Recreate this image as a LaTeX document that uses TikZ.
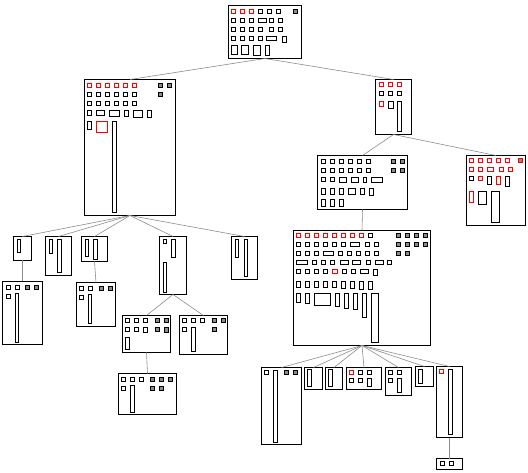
\documentclass[tikz,border=0pt]{standalone}
\usepackage{tikz}
\usetikzlibrary{fit}

\begin{document}
\begin{tikzpicture}[x=1pt, y=-1pt, shift={(0.5,0.5)},
    box/.style={draw, line width=1.1pt, inner sep=0pt, outer sep=0pt},
    cell/.style={draw, line width=1pt},
    rcell/.style={cell, draw=red},
    gcell/.style={cell, fill=black!45},
    link/.style={draw=black!45, line width=0.6pt}
]
    \useasboundingbox (-0.5,-0.5) rectangle (527.5,472.5);

    % Top level
    \node[box, fit={(228,5) (301,58)}] (root) {};
    \node[box, fit={(84,79) (175,215)}] (lhub) {};
    \node[box, fit={(375,79) (411,134)}] (rhub) {};
    \node[box, fit={(317,155) (407,209)}] (mhub) {};
    \node[box, fit={(466,155) (525,225)}] (rside) {};
    \node[box, fit={(293,230) (430,345)}] (core) {};

    % Leaves under the left hub
    \node[box, fit={(13,236) (31,260)}] (la) {};
    \node[box, fit={(45,236) (71,275)}] (lb) {};
    \node[box, fit={(81,236) (107,261)}] (lc) {};
    \node[box, fit={(159,236) (186,294)}] (ld) {};
    \node[box, fit={(231,236) (257,279)}] (le) {};
    \node[box, fit={(2,281) (42,344)}] (la2) {};
    \node[box, fit={(76,282) (115,326)}] (lc2) {};
    \node[box, fit={(122,315) (170,352)}] (ld1) {};
    \node[box, fit={(179,315) (227,354)}] (ld2) {};
    \node[box, fit={(118,373) (176,414)}] (ld3) {};

    % Leaves under the core
    \node[box, fit={(261,367) (301,444)}] (c1) {};
    \node[box, fit={(304,367) (322,389)}] (c2) {};
    \node[box, fit={(325,367) (342,389)}] (c3) {};
    \node[box, fit={(346,367) (381,389)}] (c4) {};
    \node[box, fit={(385,367) (411,395)}] (c5) {};
    \node[box, fit={(415,366) (433,386)}] (c6) {};
    \node[box, fit={(436,366) (462,437)}] (c7) {};
    \node[box, fit={(436,458) (462,469)}] (c8) {};

    % Connectors
    \foreach \n in {lhub, rhub} \draw[link] (root.south) -- (\n.north);
    \foreach \n in {mhub, rside} \draw[link] (rhub.south) -- (\n.north);
    \draw[link] (mhub.south) -- (core.north);
    \foreach \n in {la, lb, lc, ld, le} \draw[link] (lhub.south) -- (\n.north);
    \draw[link] (la.south) -- (la2.north);
    \draw[link] (lc.south) -- (lc2.north);
    \foreach \n in {ld1, ld2} \draw[link] (ld.south) -- (\n.north);
    \draw[link] (ld1.south) -- (ld3.north);
    \foreach \n in {c1, c2, c3, c4, c5, c6, c7} \draw[link] (core.south) -- (\n.north);
    \draw[link] (c7.south) -- (c8.north);

    % root cells
    \foreach \x in {231,240,249} \draw[rcell] (\x,9) rectangle +(4,4);
    \foreach \x in {258,267,276} \draw[cell] (\x,9) rectangle +(4,4);
    \draw[gcell] (293,9) rectangle +(4,4);
    \foreach \x in {231,240,249,269,278} \draw[cell] (\x,18) rectangle +(4,4);
    \draw[cell] (258,18) rectangle +(8,4);
    \foreach \x in {231,240,249,258,269,278} \draw[cell] (\x,27) rectangle +(4,4);
    \foreach \x in {231,240,249,258} \draw[cell] (\x,36) rectangle +(4,4);
    \draw[cell] (266,36) rectangle +(10,4);
    \draw[cell] (282,36) rectangle +(4,6);
    \draw[cell] (231,45) rectangle +(6,9);
    \draw[cell] (241,45) rectangle +(7,9);
    \draw[cell] (253,45) rectangle +(7,10);
    \draw[cell] (265,45) rectangle +(4,10);

    % left hub cells
    \foreach \x in {87,96,...,132} {
        \draw[rcell] (\x,83) rectangle +(4,4);
        \draw[cell] (\x,92) rectangle +(4,4);
        \draw[cell] (\x,101) rectangle +(4,4);
    }
    \foreach \x in {158,167} \draw[gcell] (\x,83) rectangle +(4,4);
    \draw[gcell] (158,92) rectangle +(4,4);
    \draw[cell] (87,110) rectangle +(4,5);
    \draw[cell] (96,110) rectangle +(8,5);
    \draw[cell] (109,110) rectangle +(10,6);
    \draw[cell] (124,110) rectangle +(4,6);
    \draw[cell] (133,110) rectangle +(9,7);
    \draw[cell] (147,110) rectangle +(4,7);
    \draw[cell] (87,121) rectangle +(4,8);
    \draw[rcell] (96,121) rectangle +(11,11);
    \draw[cell] (112,121) rectangle +(4,91);

    % right hub cells
    \foreach \x in {379,388,397} {
        \draw[rcell] (\x,82) rectangle +(4,4);
        \draw[cell] (\x,91) rectangle +(4,4);
    }
    \draw[rcell] (379,101) rectangle +(4,5);
    \draw[cell] (388,101) rectangle +(5,7);
    \draw[cell] (397,101) rectangle +(4,30);

    % middle hub cells
    \foreach \x in {321,330,...,366} {
        \draw[cell] (\x,159) rectangle +(4,4);
        \draw[cell] (\x,168) rectangle +(4,4);
    }
    \foreach \x in {391,400} {
        \draw[gcell] (\x,159) rectangle +(4,4);
        \draw[gcell] (\x,168) rectangle +(4,4);
    }
    \foreach \x in {321,330} \draw[cell] (\x,177) rectangle +(4,4);
    \draw[cell] (339,177) rectangle +(7,5);
    \draw[cell] (351,177) rectangle +(7,5);
    \draw[cell] (363,177) rectangle +(3,5);
    \draw[cell] (371,177) rectangle +(11,5);
    \foreach \x in {321,330,339} \draw[cell] (\x,188) rectangle +(4,6);
    \draw[cell] (348,188) rectangle +(7,6);
    \draw[cell] (360,188) rectangle +(4,6);
    \draw[cell] (369,188) rectangle +(4,7);
    \foreach \x in {321,330,339} \draw[cell] (\x,199) rectangle +(4,7);

    % right side cells
    \foreach \x in {469,478,487,496,505} \draw[rcell] (\x,158) rectangle +(4,4);
    \draw[rcell, fill=black!45] (518,158) rectangle +(4,4);
    \foreach \x in {469,478,499,508} \draw[rcell] (\x,167) rectangle +(4,4);
    \draw[rcell] (487,167) rectangle +(6,4);
    \draw[cell] (469,176) rectangle +(4,4);
    \draw[rcell] (478,176) rectangle +(4,4);
    \draw[cell] (487,176) rectangle +(4,8);
    \draw[rcell] (496,176) rectangle +(4,8);
    \draw[cell] (505,176) rectangle +(4,10);
    \draw[rcell] (469,191) rectangle +(4,11);
    \draw[cell] (478,191) rectangle +(8,13);
    \draw[cell] (491,191) rectangle +(8,31);

    % core cells
    \foreach \x in {296,305,...,359} \draw[rcell] (\x,233) rectangle +(4,4);
    \draw[cell] (368,233) rectangle +(4,4);
    \foreach \x in {396,405,414,423} {
        \draw[gcell] (\x,233) rectangle +(4,4);
        \draw[gcell] (\x,242) rectangle +(4,4);
    }
    \foreach \x in {296,305,...,341,365,374} \draw[cell] (\x,242) rectangle +(4,4);
    \draw[cell] (350,242) rectangle +(9,4);
    \foreach \x in {296,305,314,338,347,356,365,374} \draw[cell] (\x,251) rectangle +(4,4);
    \draw[cell] (323,251) rectangle +(10,4);
    \foreach \x in {396,405} \draw[gcell] (\x,251) rectangle +(4,4);
    \draw[cell] (296,260) rectangle +(11,4);
    \foreach \x in {312,321,330,366,387} \draw[cell] (\x,260) rectangle +(4,4);
    \draw[cell] (340,260) rectangle +(8,4);
    \draw[cell] (352,260) rectangle +(8,4);
    \draw[cell] (375,260) rectangle +(8,4);
    \foreach \x in {296,305,314,323,342,351} \draw[cell] (\x,269) rectangle +(4,4);
    \draw[rcell] (332,269) rectangle +(5,4);
    \draw[cell] (360,269) rectangle +(8,4);
    \draw[cell] (373,269) rectangle +(4,6);
    \foreach \x in {296,305,314,323,332} \draw[cell] (\x,281) rectangle +(4,6);
    \foreach \x in {341,350} \draw[cell] (\x,281) rectangle +(4,7);
    \foreach \x in {359,368} \draw[cell] (\x,281) rectangle +(4,8);
    \draw[cell] (296,293) rectangle +(4,9);
    \draw[cell] (305,293) rectangle +(4,10);
    \draw[cell] (314,293) rectangle +(16,12);
    \draw[cell] (335,293) rectangle +(4,13);
    \draw[cell] (344,293) rectangle +(4,15);
    \draw[cell] (353,293) rectangle +(4,16);
    \draw[cell] (362,293) rectangle +(4,24);
    \draw[cell] (371,293) rectangle +(7,49);

    % left leaves cells
    \draw[cell] (17,239) rectangle +(3,13);
    \draw[cell] (49,239) rectangle +(3,14);
    \draw[cell] (57,239) rectangle +(4,33);
    \draw[cell] (85,239) rectangle +(3,17);
    \draw[cell] (93,239) rectangle +(4,20);
    \draw[cell] (163,239) rectangle +(3,4);
    \draw[cell] (171,239) rectangle +(4,18);
    \draw[cell] (163,262) rectangle +(3,30);
    \draw[cell] (235,239) rectangle +(3,18);
    \draw[cell] (244,239) rectangle +(3,37);
    \foreach \x in {6,15} \draw[cell] (\x,285) rectangle +(4,4);
    \foreach \x in {25,34} \draw[gcell] (\x,285) rectangle +(4,4);
    \draw[cell] (6,294) rectangle +(4,4);
    \draw[cell] (15,293) rectangle +(3,49);
    \foreach \x in {79,88} \draw[cell] (\x,286) rectangle +(4,4);
    \foreach \x in {99,108} \draw[gcell] (\x,286) rectangle +(4,4);
    \draw[cell] (79,295) rectangle +(4,4);
    \draw[cell] (88,294) rectangle +(3,29);
    \foreach \x in {125,134,143} \draw[cell] (\x,318) rectangle +(4,4);
    \foreach \x in {155,164} \draw[gcell] (\x,318) rectangle +(4,4);
    \foreach \x in {125,134} \draw[cell] (\x,327) rectangle +(4,4);
    \draw[cell] (143,327) rectangle +(4,5);
    \draw[gcell] (155,327) rectangle +(4,4);
    \draw[gcell] (164,327) rectangle +(4,5);
    \draw[cell] (125,337) rectangle +(4,12);
    \foreach \x in {182,191,200} \draw[cell] (\x,318) rectangle +(4,4);
    \foreach \x in {212,221} \draw[gcell] (\x,318) rectangle +(4,4);
    \draw[cell] (182,327) rectangle +(4,4);
    \draw[gcell] (212,327) rectangle +(4,4);
    \draw[cell] (191,327) rectangle +(4,24);
    \foreach \x in {121,130,139} \draw[cell] (\x,377) rectangle +(4,4);
    \foreach \x in {150,159,168} \draw[gcell] (\x,377) rectangle +(4,4);
    \draw[cell] (121,386) rectangle +(4,4);
    \foreach \x in {150,159} \draw[gcell] (\x,386) rectangle +(4,4);
    \draw[cell] (130,385) rectangle +(4,27);

    % core leaves cells
    \draw[cell] (264,370) rectangle +(4,4);
    \draw[cell] (273,370) rectangle +(4,72);
    \foreach \x in {284,293} \draw[gcell] (\x,370) rectangle +(4,4);
    \draw[cell] (307,369) rectangle +(4,17);
    \draw[cell] (328,369) rectangle +(4,17);
    \draw[rcell] (349,370) rectangle +(4,4);
    \foreach \x in {358,367} \draw[cell] (\x,370) rectangle +(4,4);
    \foreach \x in {349,358} \draw[cell] (\x,378) rectangle +(4,4);
    \draw[cell] (367,378) rectangle +(4,8);
    \foreach \x in {388,397} \draw[cell] (\x,370) rectangle +(4,4);
    \draw[cell] (388,378) rectangle +(4,4);
    \draw[cell] (397,378) rectangle +(4,14);
    \draw[cell] (418,369) rectangle +(4,14);
    \draw[rcell] (439,369) rectangle +(4,4);
    \draw[cell] (448,369) rectangle +(4,65);
    \foreach \x in {440,449} \draw[cell] (\x,461) rectangle +(4,4);

\end{tikzpicture}
\end{document}
